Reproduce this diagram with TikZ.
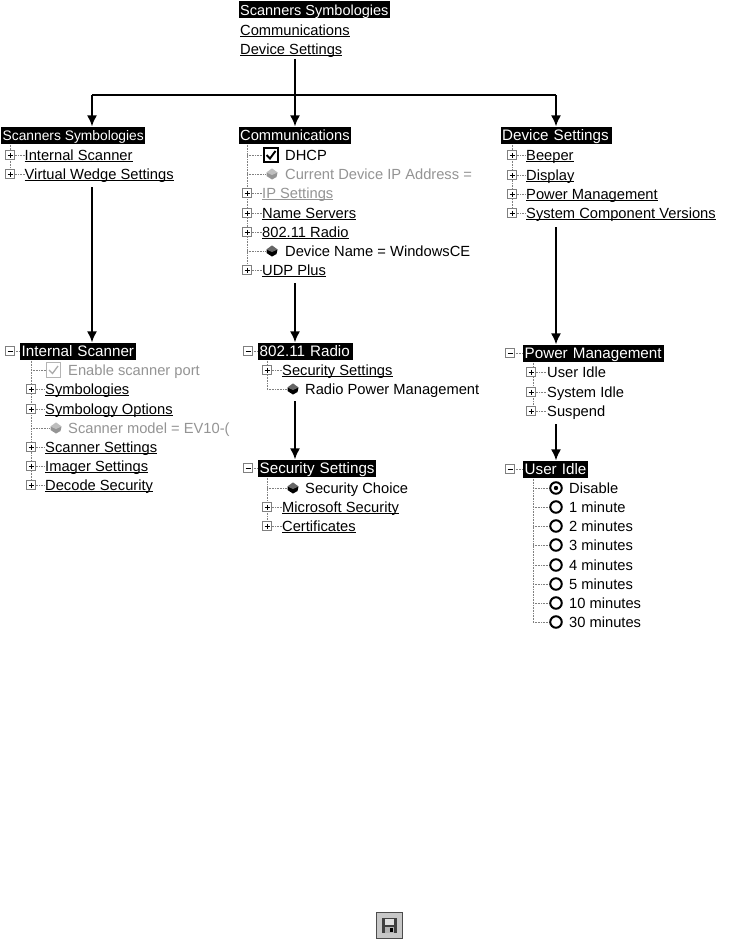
\documentclass[tikz,border=0pt]{standalone}
\usepackage{fontspec}
\setmainfont{Liberation Sans}
\usetikzlibrary{arrows.meta}
\definecolor{dis}{gray}{0.58}
\tikzset{
  x=1pt,y=-1pt,
  every node/.style={font=\fontsize{14.7}{16}\selectfont,inner sep=0pt,text height=13pt,text depth=2pt},
  headbox/.style={anchor=west,fill=black,text=white,inner xsep=1.5pt,inner ysep=1pt},
  widehead/.style={headbox,font=\fontsize{15.2}{16}\selectfont,text width=#1-3pt},
  rowtext/.style={anchor=west,text=black},
  distext/.style={anchor=west,text=dis},
  treeline/.style={gray,densely dotted,line width=.6pt},
  pm/.style={draw=gray,fill=white,line width=.7pt,minimum size=9pt,text height=0pt,text depth=0pt},
  arr/.style={-{Latex[length=11pt,width=10pt]},line width=1.5pt,black},
  plainline/.style={line width=1.5pt,black},
}
\newcounter{auton}
\newcommand{\nxt}{\stepcounter{auton}}
\newcommand{\ul}[1]{\setbox0\hbox{#1}\rlap{\rule[-1.7pt]{\wd0}{0.8pt}}\box0}
\newcommand{\plusrow}[5]{\nxt
  \draw[treeline] (#1,#3) -- (#2,#3);
  \node[pm] (p\theauton) at (#1,#3) {};
  \draw[line width=.8pt] (p\theauton.center) +(-2.5,0) -- +(2.5,0) (p\theauton.center) +(0,-2.5) -- +(0,2.5);
  \node[#5] (t\theauton) at (#2,#3) {#4};}
\newcommand{\minusbox}[2]{\nxt
  \node[pm] (p\theauton) at (#1,#2) {};
  \draw[line width=.8pt] (p\theauton.center) +(-2.5,0) -- +(2.5,0);}
\newcommand{\cube}[3]{%
  \fill[#3] (#1,#2-5.5) -- (#1+5.5,#2-1.5) -- (#1+4.5,#2+3) -- (#1,#2+5.5) -- (#1-5.5,#2+2) -- (#1-5.5,#2-1.5) -- cycle;
  \fill[white,opacity=.4] (#1,#2-5.5) -- (#1-5.5,#2-1.5) -- (#1,#2+1) -- (#1+5.5,#2-1.5) -- cycle;}
\newcommand{\diarow}[6]{\nxt
  \draw[treeline] (#1,#4) -- (#2-6,#4);
  \cube{#2}{#4}{#6}
  \node[anchor=west,text=#6] (t\theauton) at (#3,#4) {#5};}
\newcommand{\radiorow}[5]{\nxt
  \draw[treeline] (#1,#4) -- (#2-6,#4);
  \node[circle,draw=black,line width=2pt,minimum size=11.5pt,text height=0pt,text depth=0pt] (r\theauton) at (#2,#4) {};
  \node[rowtext] (t\theauton) at (#3,#4) {#5};}
\begin{document}
\begin{tikzpicture}
\useasboundingbox (0,0) rectangle (745,942);
\fill[white] (0,0) rectangle (745,942);

% top
\node[headbox,font=\fontsize{14.5}{16}\selectfont] (top1) at (238.5,10) {Scanners Symbologies};
\node[rowtext] (top2) at (240,30) {\ul{Communications}};
\node[rowtext] (top3) at (240,49) {\ul{Device Settings}};

% column headers
\draw[treeline] (10,135) -- (10,174) (247,135) -- (247,270) (512,135) -- (512,213);
\node[headbox,font=\fontsize{13.8}{16}\selectfont] (scan) at (1,135) {Scanners Symbologies};
\plusrow{10}{24.5}{155}{\ul{Internal Scanner}}{rowtext}
\plusrow{10}{24.5}{174}{\ul{Virtual Wedge Settings}}{rowtext}

\node[widehead=112pt,font=\fontsize{14.7}{16}\selectfont] (comm) at (238.5,135) {\mbox{Communications}};
\draw[treeline] (247,155) -- (264,155);
\node[draw=black,line width=2pt,minimum size=14pt,text height=0pt,text depth=0pt] (dhcpbox) at (271,155) {};
\draw[line width=1.9pt] (266.5,155) -- (270,158.5) -- (275.5,151);
\node[rowtext] (dhcp) at (285,155) {DHCP};
\diarow{247}{272}{285}{174}{Current Device IP Address =}{dis}
\plusrow{247}{262}{193}{\ul{IP Settings}}{distext}
\plusrow{247}{262}{213}{\ul{Name Servers}}{rowtext}
\plusrow{247}{262}{232}{\ul{802.11 Radio}}{rowtext}
\diarow{247}{272}{285}{251}{Device Name = WindowsCE}{black}
\plusrow{247}{262}{270}{\ul{UDP Plus}}{rowtext}

\node[widehead=111pt] (dev) at (500.5,135) {\mbox{Device Settings}};
\plusrow{512}{526}{155}{\ul{Beeper}}{rowtext}
\plusrow{512}{526}{175}{\ul{Display}}{rowtext}
\plusrow{512}{526}{194}{\ul{Power Management}}{rowtext}
\plusrow{512}{526}{213}{\ul{System Component Versions}}{rowtext}

% Internal Scanner
\draw[treeline] (31,351) -- (31,485) (14,351) -- (21,351);
\minusbox{10}{351}
\node[widehead=116pt] (intern) at (20,351) {\mbox{Internal Scanner}};
\draw[treeline] (31,370) -- (46,370);
\node[draw=dis!70,line width=1.2pt,minimum size=14.5pt,text height=0pt,text depth=0pt] (enbox) at (53.5,370) {};
\draw[dis!80,line width=1.3pt] (49,370) -- (52.5,373.5) -- (58,366);
\node[distext] (en) at (68,370) {Enable scanner port};
\plusrow{31}{45}{389}{\ul{Symbologies}}{rowtext}
\plusrow{31}{45}{409}{\ul{Symbology Options}}{rowtext}
\diarow{31}{56}{68}{428}{Scanner model = EV10-(}{dis}
\plusrow{31}{45}{447}{\ul{Scanner Settings}}{rowtext}
\plusrow{31}{45}{466}{\ul{Imager Settings}}{rowtext}
\plusrow{31}{45}{485}{\ul{Decode Security}}{rowtext}

% 802.11
\draw[treeline] (267,351) -- (267,389) (252,351) -- (259,351);
\minusbox{248}{351}
\node[widehead=95pt] (radio) at (258,351) {\mbox{802.11 Radio}};
\plusrow{267}{282}{370}{\ul{Security Settings}}{rowtext}
\diarow{267}{293}{305}{389}{Radio Power Management}{black}

% Security Settings
\draw[treeline] (267,468) -- (267,526) (252,468) -- (259,468);
\minusbox{248}{468}
\node[widehead=118pt] (sec) at (258,468) {\mbox{Security Settings}};
\diarow{267}{293}{305}{488}{Security Choice}{black}
\plusrow{267}{282}{507}{\ul{Microsoft Security}}{rowtext}
\plusrow{267}{282}{526}{\ul{Certificates}}{rowtext}

% Power Management
\draw[treeline] (533,353) -- (533,411) (514,353) -- (523,353);
\minusbox{510}{353}
\node[widehead=141pt] (power) at (523,353) {\mbox{Power Management}};
\plusrow{531}{547}{372}{User Idle}{rowtext}
\plusrow{531}{547}{392}{System Idle}{rowtext}
\plusrow{531}{547}{411}{Suspend}{rowtext}

% User Idle
\draw[treeline] (533,469) -- (533,622) (514,469) -- (523,469);
\minusbox{510}{469}
\node[widehead=65pt] (idle) at (523,469) {\mbox{User Idle}};
\radiorow{533}{556}{569}{488}{Disable}
\fill (r\theauton.center) circle (2.2pt);
\radiorow{533}{556}{569}{507}{1 minute}
\radiorow{533}{556}{569}{526}{2 minutes}
\radiorow{533}{556}{569}{545}{3 minutes}
\radiorow{533}{556}{569}{565}{4 minutes}
\radiorow{533}{556}{569}{584}{5 minutes}
\radiorow{533}{556}{569}{603}{10 minutes}
\radiorow{533}{556}{569}{622}{30 minutes}

% arrows
\coordinate (jl) at (92,95);
\coordinate (jm) at (295,95);
\coordinate (jr) at (556,95);
\coordinate (s1) at (295,59);
\coordinate (s2) at (92,187);
\coordinate (s3) at (295,283);
\coordinate (s4) at (556,227);
\coordinate (s5) at (295,401);
\coordinate (s6) at (556,424);
\draw[plainline] (jl) -- (jr);
\draw[arr] (s1) -- (s1 |- comm.north);
\draw[arr] (jl) -- (jl |- scan.north);
\draw[arr] (jr) -- (jr |- dev.north);
\draw[arr] (s2) -- (s2 |- intern.north);
\draw[arr] (s3) -- (s3 |- radio.north);
\draw[arr] (s4) -- (s4 |- power.north);
\draw[arr] (s5) -- (s5 |- sec.north);
\draw[arr] (s6) -- (s6 |- idle.north);

% save icon
\node[draw=black!70,fill=black!22,line width=.8pt,minimum size=26pt,text height=0pt,text depth=0pt] (save) at (389.5,925) {};
\fill[black!75] (382,918) rectangle (397,933);
\fill[black!12] (385,918.5) rectangle (394,925);
\fill[black!30] (385,927) rectangle (394,933);
\fill[black] (390,928) rectangle (393,932);
\end{tikzpicture}
\end{document}
